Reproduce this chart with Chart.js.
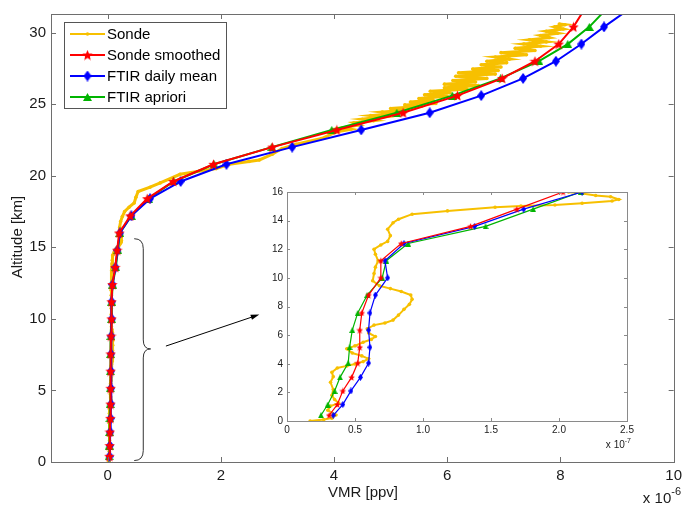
<!DOCTYPE html>
<html>
<head>
<meta charset="utf-8">
<script src="https://cdn.jsdelivr.net/npm/chart.js@4.4.0/dist/chart.umd.min.js"></script>
<style>
body { margin: 0; background: #fff; }
#wrap { position: relative; width: 687px; height: 505px; }
#main { position: absolute; left: 0; top: 0; }
#inset { position: absolute; left: 262px; top: 182px; }
</style>
</head>
<body>
<div id="wrap">
  <canvas id="main" width="687" height="505"></canvas>
  <canvas id="inset" width="375" height="270"></canvas>
</div>
<script>
const FONT = '"Liberation Sans", Arial, sans-serif';

// VMR in units of 1e-6 ppv, altitude in km
const seriesNames = ['Sonde', 'Sonde smoothed', 'FTIR daily mean', 'FTIR apriori'];
const seriesColors = ['#f7c000', '#ff0000', '#0000ff', '#00b400'];

const sondeVmr = [
  0.017, 0.027, 0.033, 0.036, 0.030, 0.032, 0.038, 0.035, 0.033, 0.034,
  0.032, 0.034, 0.033, 0.037, 0.044, 0.050, 0.056, 0.060, 0.055, 0.048,
  0.044, 0.050, 0.056, 0.062, 0.065, 0.060, 0.059, 0.064, 0.072, 0.078,
  0.082, 0.086, 0.090, 0.092, 0.091, 0.084, 0.076, 0.068, 0.063, 0.064,
  0.065, 0.067, 0.065, 0.064, 0.069, 0.074, 0.076, 0.074, 0.078, 0.082,
  0.092, 0.118, 0.153, 0.172, 0.197, 0.217, 0.239, 0.244, 0.238, 0.227,
  0.217, 0.207, 0.215, 0.230, 0.260, 0.300, 0.380, 0.470, 0.500, 0.540,
  0.750, 0.930, 1.280, 1.920, 2.150, 2.500, 2.680, 2.910, 3.080, 3.330,
  3.780, 4.03, 4.30, 4.15, 4.45, 4.35, 4.70, 4.50, 4.85, 4.65,
  5.05, 4.85, 5.30, 5.00, 5.55, 5.25, 5.80, 5.35, 5.75, 5.50,
  6.00, 5.60, 6.05, 5.70, 6.35, 5.95, 6.55, 5.95, 6.50, 6.10,
  6.70, 6.15, 6.85, 6.20, 6.90, 6.45, 6.95, 6.60, 7.05, 6.70,
  7.10, 6.85, 7.40, 6.95, 7.55, 7.20, 7.65, 7.35, 7.75, 7.45,
  7.80, 7.65, 7.95, 7.75, 8.05, 7.90, 8.08, 7.98
];
const sondeAlt = [
  0.00, 0.10, 0.20, 0.42, 0.75, 1.05, 1.25, 1.50, 1.80, 2.20,
  2.70, 3.10, 3.40, 3.70, 3.85, 3.98, 4.15, 4.35, 4.55, 4.75,
  5.05, 5.25, 5.50, 5.70, 5.90, 6.15, 6.45, 6.70, 6.85, 7.05,
  7.40, 7.80, 8.15, 8.50, 8.80, 9.05, 9.25, 9.45, 9.80, 10.30,
  10.75, 11.20, 11.65, 12.00, 12.30, 12.55, 12.95, 13.40, 13.85, 14.10,
  14.45, 14.68, 14.93, 15.02, 15.09, 15.21, 15.37, 15.48, 15.67, 15.76,
  15.90, 16.00, 16.40, 16.80, 17.15, 17.50, 17.80, 18.10, 18.50, 18.90,
  19.20, 19.50, 20.10, 20.50, 20.80, 21.00, 21.10, 21.50, 21.90, 22.20,
  22.60, 23.05, 23.25, 23.35, 23.55, 23.70, 23.85, 23.95, 24.10, 24.20,
  24.35, 24.45, 24.60, 24.70, 24.85, 24.95, 25.05, 25.15, 25.30, 25.40,
  25.55, 25.65, 25.80, 25.90, 26.05, 26.15, 26.30, 26.40, 26.55, 26.65,
  26.80, 26.95, 27.10, 27.20, 27.35, 27.45, 27.60, 27.75, 27.90, 28.00,
  28.15, 28.30, 28.45, 28.60, 28.75, 28.90, 29.05, 29.20, 29.35, 29.50,
  29.65, 29.80, 29.95, 30.10, 30.25, 30.40, 30.55, 30.60
];

const gridAlt = [0.4, 1.15, 2.1, 3.05, 4.05, 5.15, 6.35, 7.55, 8.8, 10.0, 11.2, 12.4, 13.6, 14.8,
  16.0, 17.2, 18.4, 19.6, 20.8, 22.0, 23.2, 24.4, 25.6, 26.8, 28.0, 29.2, 30.4, 31.6];
const smoothVmr = [0.031, 0.037, 0.041, 0.0475, 0.052, 0.0535, 0.0535, 0.055, 0.060, 0.069, 0.069, 0.084, 0.135, 0.169,
  0.203, 0.40, 0.70, 1.16, 1.87, 2.91, 4.05, 5.22, 6.18, 6.97, 7.55, 7.97, 8.23, 8.42];
const ftirVmr = [0.034, 0.041, 0.047, 0.054, 0.060, 0.061, 0.060, 0.061, 0.065, 0.074, 0.072, 0.086, 0.138, 0.174,
  0.217, 0.42, 0.75, 1.29, 2.10, 3.26, 4.48, 5.69, 6.60, 7.34, 7.92, 8.37, 8.77, 9.20];
const aprioriVmr = [0.025, 0.030, 0.035, 0.039, 0.045, 0.046, 0.048, 0.052, 0.059, 0.070, 0.073, 0.089, 0.146, 0.181,
  0.216, 0.42, 0.72, 1.17, 1.88, 2.90, 3.96, 5.11, 6.09, 6.94, 7.62, 8.13, 8.51, 8.80];

const mainXTicks = [0, 2, 4, 6, 8, 10];
const mainYTicks = [0, 5, 10, 15, 20, 25, 30];
const insetXTicks = [0, 0.5, 1, 1.5, 2, 2.5];   // units of 1e-7
const insetYTicks = [0, 2, 4, 6, 8, 10, 12, 14, 16];

const pts = (xs, ys, k) => xs.map((v, i) => ({ x: v * k, y: ys[i] }));

// marker images
function star(size, color) {
  const c = document.createElement('canvas');
  c.width = c.height = size;
  const g = c.getContext('2d');
  const r = size / 2, ri = r * 0.45;
  g.fillStyle = color;
  g.beginPath();
  for (let i = 0; i < 10; i++) {
    const a = -Math.PI / 2 + i * Math.PI / 5;
    const rr = i % 2 ? ri : r;
    g.lineTo(r + rr * Math.cos(a), r * 1.1 + rr * Math.sin(a));
  }
  g.closePath();
  g.fill();
  return c;
}
function diamond(w, h, color) {
  const c = document.createElement('canvas');
  c.width = w; c.height = h;
  const g = c.getContext('2d');
  g.fillStyle = color;
  g.beginPath();
  g.moveTo(w / 2, 0); g.lineTo(w, h / 2); g.lineTo(w / 2, h); g.lineTo(0, h / 2);
  g.closePath(); g.fill();
  return c;
}
function triangle(w, h, color) {
  const c = document.createElement('canvas');
  c.width = w; c.height = h;
  const g = c.getContext('2d');
  g.fillStyle = color;
  g.beginPath();
  g.moveTo(w / 2, 0); g.lineTo(w, h); g.lineTo(0, h);
  g.closePath(); g.fill();
  return c;
}

function makeDatasets(k, big) {
  const lw = big ? 2 : 1.2;
  return [
    { label: seriesNames[0], data: pts(sondeVmr, sondeAlt, k), borderColor: seriesColors[0], backgroundColor: seriesColors[0],
      borderWidth: big ? 3 : 2, pointRadius: big ? 1.8 : 1.8, pointBorderWidth: 0, order: 4 },
    { label: seriesNames[3], data: pts(aprioriVmr, gridAlt, k), borderColor: seriesColors[3], borderWidth: lw,
      pointStyle: big ? triangle(9, 8, seriesColors[3]) : triangle(6, 6, seriesColors[3]), pointRadius: 4, order: 3 },
    { label: seriesNames[2], data: pts(ftirVmr, gridAlt, k), borderColor: seriesColors[2], borderWidth: lw,
      pointStyle: big ? diamond(8, 11, seriesColors[2]) : diamond(5, 7, seriesColors[2]), pointRadius: 4, order: 2 },
    { label: seriesNames[1], data: pts(smoothVmr, gridAlt, k), borderColor: seriesColors[1], borderWidth: lw,
      pointStyle: big ? star(11, seriesColors[1]) : star(7, seriesColors[1]), pointRadius: 4, order: 1 }
  ].map(d => Object.assign({ showLine: true, tension: 0, fill: false }, d));
}

function makeFrame(tickLen, color, bg) {
  return {
    id: 'frame',
    beforeDraw(chart) {
      if (!bg) return;
      const { ctx, chartArea: a } = chart;
      ctx.save(); ctx.fillStyle = '#fff';
      ctx.fillRect(a.left, a.top, a.right - a.left, a.bottom - a.top);
      ctx.restore();
    },
    afterDraw(chart) {
      const { ctx, chartArea: a, scales: { x, y } } = chart;
      ctx.save();
      ctx.strokeStyle = color; ctx.lineWidth = 1;
      ctx.strokeRect(Math.round(a.left) + 0.5, Math.round(a.top) + 0.5, Math.round(a.right - a.left), Math.round(a.bottom - a.top));
      ctx.beginPath();
      x.ticks.forEach(t => {
        const p = Math.round(x.getPixelForValue(t.value)) + 0.5;
        ctx.moveTo(p, a.bottom); ctx.lineTo(p, a.bottom - tickLen);
        ctx.moveTo(p, a.top); ctx.lineTo(p, a.top + tickLen);
      });
      y.ticks.forEach(t => {
        const p = Math.round(y.getPixelForValue(t.value)) + 0.5;
        ctx.moveTo(a.left, p); ctx.lineTo(a.left + tickLen, p);
        ctx.moveTo(a.right, p); ctx.lineTo(a.right - tickLen, p);
      });
      ctx.stroke();
      ctx.restore();
    }
  };
}

function exponent(ctx, xRight, yBase, base, sup, size) {
  ctx.font = size + 'px ' + FONT;
  const supFont = Math.round(size * 0.7) + 'px ' + FONT;
  ctx.textBaseline = 'alphabetic';
  ctx.textAlign = 'left';
  const bw = ctx.measureText(base).width;
  ctx.font = supFont;
  const sw = ctx.measureText(sup).width;
  const x0 = xRight - bw - sw;
  ctx.font = size + 'px ' + FONT;
  ctx.fillText(base, x0, yBase);
  ctx.font = supFont;
  ctx.fillText(sup, x0 + bw, yBase - size * 0.55);
}

const extras = {
  id: 'extras',
  afterDraw(chart) {
    const { ctx, scales: { x, y } } = chart;
    ctx.save();
    ctx.fillStyle = '#1a1a1a';
    // axis titles
    ctx.font = '15px ' + FONT;
    ctx.textAlign = 'center'; ctx.textBaseline = 'middle';
    ctx.fillText('VMR [ppv]', 363, 493);
    ctx.save();
    ctx.translate(18, 237); ctx.rotate(-Math.PI / 2);
    ctx.fillText('Altitude [km]', 0, 0);
    ctx.restore();
    exponent(ctx, 681, 503, 'x 10', '-6', 15);

    // brace over the lower troposphere
    const sx = x.getPixelForValue(0.63), ex = x.getPixelForValue(0.47), tx = x.getPixelForValue(0.76);
    const yt = y.getPixelForValue(15.6), ym = y.getPixelForValue(7.9), yb = y.getPixelForValue(0.1);
    ctx.strokeStyle = '#333'; ctx.lineWidth = 1;
    ctx.beginPath();
    ctx.moveTo(ex, yt);
    ctx.quadraticCurveTo(sx, yt, sx, yt + 10);
    ctx.lineTo(sx, ym - 9);
    ctx.quadraticCurveTo(sx, ym, tx, ym);
    ctx.quadraticCurveTo(sx, ym, sx, ym + 9);
    ctx.lineTo(sx, yb - 10);
    ctx.quadraticCurveTo(sx, yb, ex, yb);
    ctx.stroke();

    // arrow towards the inset
    const ax0 = x.getPixelForValue(1.03), ay0 = y.getPixelForValue(8.1);
    const ax1 = x.getPixelForValue(2.68), ay1 = y.getPixelForValue(10.3);
    const ang = Math.atan2(ay1 - ay0, ax1 - ax0);
    ctx.strokeStyle = '#000';
    ctx.beginPath(); ctx.moveTo(ax0, ay0); ctx.lineTo(ax1 - 6 * Math.cos(ang), ay1 - 6 * Math.sin(ang)); ctx.stroke();
    ctx.fillStyle = '#000';
    ctx.beginPath();
    ctx.moveTo(ax1, ay1);
    ctx.lineTo(ax1 - 9 * Math.cos(ang - 0.3), ay1 - 9 * Math.sin(ang - 0.3));
    ctx.lineTo(ax1 - 9 * Math.cos(ang + 0.3), ay1 - 9 * Math.sin(ang + 0.3));
    ctx.closePath(); ctx.fill();

    // legend
    ctx.fillStyle = '#fff';
    ctx.fillRect(64, 22, 162, 86);
    ctx.strokeStyle = '#555';
    ctx.strokeRect(64.5, 22.5, 162, 86);
    const marks = [null, star(11, seriesColors[1]), diamond(8, 11, seriesColors[2]), triangle(9, 8, seriesColors[3])];
    ctx.font = '15px ' + FONT;
    ctx.textAlign = 'left'; ctx.textBaseline = 'middle';
    seriesNames.forEach((name, i) => {
      const ly = 34 + i * 21;
      ctx.strokeStyle = seriesColors[i]; ctx.lineWidth = 2;
      ctx.beginPath(); ctx.moveTo(70, ly); ctx.lineTo(105, ly); ctx.stroke();
      if (marks[i]) {
        ctx.drawImage(marks[i], 87.5 - marks[i].width / 2, ly - marks[i].height / 2);
      } else {
        ctx.fillStyle = seriesColors[i];
        ctx.beginPath(); ctx.arc(87.5, ly, 1.8, 0, Math.PI * 2); ctx.fill();
      }
      ctx.fillStyle = '#000';
      ctx.fillText(name, 107, ly + 1);
    });
    ctx.restore();
  }
};

function fixTicks(list) {
  return scale => { scale.ticks = list.map(v => ({ value: v })); };
}

new Chart(document.getElementById('main'), {
  type: 'scatter',
  data: { datasets: makeDatasets(1, true) },
  options: {
    responsive: false,
    animation: false,
    layout: { padding: { top: 11, right: 9, left: 0, bottom: 0 } },
    plugins: { legend: { display: false }, tooltip: { enabled: false } },
    scales: {
      x: {
        type: 'linear', min: -1, max: 10,
        afterBuildTicks: fixTicks(mainXTicks),
        afterFit: s => { s.height = 43; },
        grid: { display: false, drawTicks: false },
        border: { display: false },
        ticks: { padding: 5, color: '#1a1a1a', font: { family: FONT, size: 15 } }
      },
      y: {
        type: 'linear', min: 0, max: 31.3,
        afterBuildTicks: fixTicks(mainYTicks),
        afterFit: s => { s.width = 51; },
        grid: { display: false, drawTicks: false },
        border: { display: false },
        ticks: { padding: 5, color: '#1a1a1a', font: { family: FONT, size: 15 } }
      }
    }
  },
  plugins: [makeFrame(5, '#6e6e6e', false), extras]
});

const insetExtras = {
  id: 'insetExtras',
  afterDraw(chart) {
    const { ctx } = chart;
    ctx.save();
    ctx.fillStyle = '#1a1a1a';
    exponent(ctx, 369, 266, 'x 10', '-7', 10);
    ctx.restore();
  }
};

new Chart(document.getElementById('inset'), {
  type: 'scatter',
  data: { datasets: makeDatasets(10, false) },
  options: {
    responsive: false,
    animation: false,
    layout: { padding: { top: 7, right: 10, left: 0, bottom: 0 } },
    plugins: { legend: { display: false }, tooltip: { enabled: false } },
    scales: {
      x: {
        type: 'linear', min: 0, max: 2.5,
        afterBuildTicks: fixTicks(insetXTicks),
        afterFit: s => { s.height = 31; },
        grid: { display: false, drawTicks: false },
        border: { display: false },
        ticks: { padding: 3, color: '#1a1a1a', font: { family: FONT, size: 10 } }
      },
      y: {
        type: 'linear', min: 0, max: 16,
        afterBuildTicks: fixTicks(insetYTicks),
        afterFit: s => { s.width = 25; },
        grid: { display: false, drawTicks: false },
        border: { display: false },
        ticks: { padding: 4, color: '#1a1a1a', font: { family: FONT, size: 10 } }
      }
    }
  },
  plugins: [makeFrame(3, '#8a8a8a', true), insetExtras]
});
</script>
</body>
</html>
